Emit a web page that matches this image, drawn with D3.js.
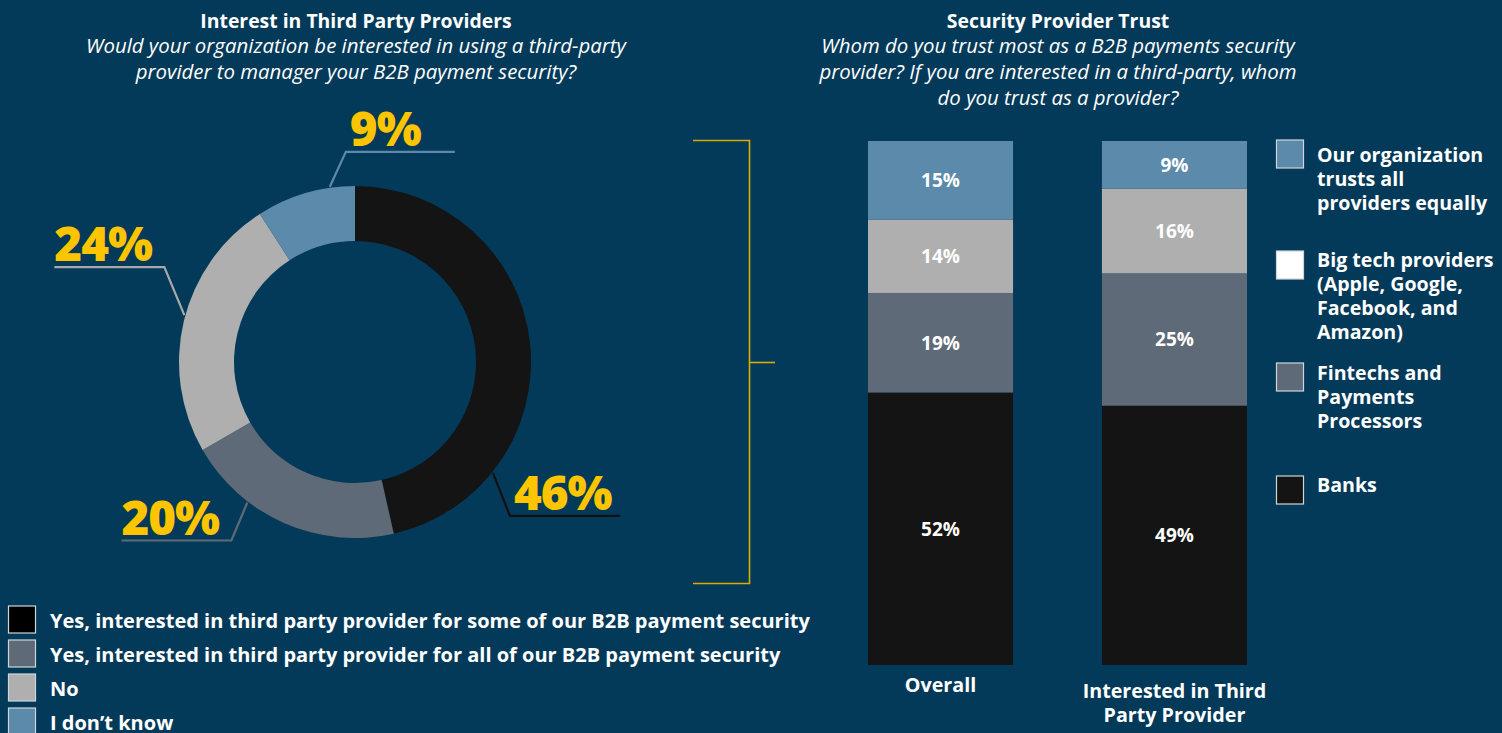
<!DOCTYPE html>
<html>
<head>
<meta charset="utf-8">
<script src="https://cdn.jsdelivr.net/npm/d3@7"></script>
<style>
  html, body { margin: 0; padding: 0; background: #043a59; }
  svg { display: block; }
  text { font-family: "Open Sans", "Noto Sans", sans-serif; }
</style>
</head>
<body>
<svg id="chart" width="1502" height="733"></svg>
<script>
// ---- Interest in third party providers (donut) ----
const interestLabels = [
  "Yes, interested in third party provider for some of our B2B payment security",
  "Yes, interested in third party provider for all of our B2B payment security",
  "No",
  "I don’t know"
];
const interestValues = [46, 20, 24, 9];
const interestColors = ["#141414", "#5e6a77", "#afafaf", "#5b8aab"];
const interestSwatchColors = ["#000000", "#5e6a77", "#afafaf", "#5b8aab"];

// ---- Security provider trust (stacked bars) ----
const trustCategories = ["Overall", "Interested in Third Party Provider"];
const trustCategoryLines = [["Overall"], ["Interested in Third", "Party Provider"]];
const trustSeries = ["Banks", "Fintechs and Payments Processors",
  "Big tech providers (Apple, Google, Facebook, and Amazon)",
  "Our organization trusts all providers equally"];
const banks = [52, 49];
const fintechs = [19, 25];
const bigTech = [14, 16];
const trustAll = [15, 9];
const trustColors = ["#141414", "#5e6a77", "#afafaf", "#5b8aab"];
const trustSwatchColors = ["#141414", "#5e6a77", "#ffffff", "#5b8aab"];
const trustLegendLines = [
  ["Our organization", "trusts all", "providers equally"],
  ["Big tech providers", "(Apple, Google,", "Facebook, and", "Amazon)"],
  ["Fintechs and", "Payments", "Processors"],
  ["Banks"]
];

const svg = d3.select("#chart");
const white = "#ffffff";
const yellow = "#fcc500";

// ---------- titles ----------
function titleBlock(cx, title, lines, subSize) {
  svg.append("text").attr("x", cx).attr("y", 28)
    .attr("text-anchor", "middle").attr("fill", white)
    .attr("font-size", 19.4).attr("font-weight", 700).text(title);
  lines.forEach((l, i) => {
    svg.append("text").attr("x", cx).attr("y", 53 + i * 26)
      .attr("text-anchor", "middle").attr("fill", white)
      .attr("font-size", subSize).attr("font-style", "italic").text(l);
  });
}
titleBlock(356, "Interest in Third Party Providers", [
  "Would your organization be interested in using a third-party",
  "provider to manager your B2B payment security?"
], 20.4);
titleBlock(1058, "Security Provider Trust", [
  "Whom do you trust most as a B2B payments security",
  "provider? If you are interested in a third-party, whom",
  "do you trust as a provider?"
], 20.4);

// ---------- donut ----------
const cx = 355, cy = 362, rOuter = 176, rInner = 121;
const pie = d3.pie().sort(null).value(d => d)(interestValues);
const arc = d3.arc().innerRadius(rInner).outerRadius(rOuter);
const donut = svg.append("g").attr("transform", `translate(${cx},${cy})`);
donut.selectAll("path").data(pie).join("path")
  .attr("d", arc).attr("fill", (d, i) => interestColors[i]);

// leader lines: where along the slice they leave, the elbow offset and run direction
const leaders = [
  { t: 0.77, elbow: [17, 43], run: 110, lineColor: "#111111" },
  { t: 0.69, elbow: [-16, 38], run: -110, lineColor: "#5e6a77" },
  { t: 0.52, elbow: [-20, -48], run: -110, lineColor: "#a9a9a9" },
  { t: 0.75, elbow: [16, -35], run: 109, lineColor: "#5b8aab" }
];
pie.forEach((p, i) => {
  const L = leaders[i];
  const a = p.startAngle + (p.endAngle - p.startAngle) * L.t;
  const [sx, sy] = d3.pointRadial(a, rOuter + 1);
  const ex = sx + L.elbow[0], ey = sy + L.elbow[1];
  const hx = ex + L.run;
  const g = svg.append("g").attr("transform", `translate(${cx},${cy})`);
  g.append("polyline")
    .attr("points", [[sx, sy], [ex, ey], [hx, ey]].map(q => q.join(",")).join(" "))
    .attr("fill", "none").attr("stroke", L.lineColor).attr("stroke-width", 2.2);
  const tx = L.run > 0 ? ex + 4 : hx;
  g.append("text").attr("x", tx).attr("y", ey - 6)
    .attr("fill", yellow).attr("font-size", 47.5).attr("font-weight", 800)
    .attr("letter-spacing", -1)
    .text(d3.format(".0f")(interestValues[i]) + "%");
});

// left legend
interestLabels.forEach((lab, i) => {
  const y0 = 606 + i * 34;
  svg.append("rect").attr("x", 8.5).attr("y", y0).attr("width", 27).attr("height", 27)
    .attr("fill", interestSwatchColors[i]).attr("stroke", "#cfd5da").attr("stroke-width", 1.2);
  svg.append("text").attr("x", 50).attr("y", y0 + 22)
    .attr("fill", white).attr("font-size", 20).attr("font-weight", 700).text(lab);
});

// ---------- bracket ----------
const bracket = svg.append("g").attr("fill", "none").attr("stroke", "#d9ad00").attr("stroke-width", 1.6);
bracket.append("path").attr("d", "M693,140.5 H749.5 V583.5 H693");
bracket.append("path").attr("d", "M749.5,362.5 H775");

// ---------- stacked bars ----------
const x = d3.scaleBand().domain(trustCategories).range([868, 1247]).paddingInner(0.38).paddingOuter(0);
const seriesValues = [banks, fintechs, bigTech, trustAll];
const rows = trustCategories.map((c, ci) => {
  const row = { category: c };
  trustSeries.forEach((s, si) => { row[s] = seriesValues[si][ci]; });
  return row;
});
const stack = d3.stack().keys(trustSeries)(rows);

trustCategories.forEach((c, ci) => {
  const total = d3.sum(seriesValues, v => v[ci]);
  const y = d3.scaleLinear().domain([0, total]).range([665, 141]);
  stack.forEach((layer, si) => {
    const d = layer[ci];
    svg.append("rect")
      .attr("x", x(c)).attr("width", x.bandwidth())
      .attr("y", y(d[1])).attr("height", y(d[0]) - y(d[1]))
      .attr("fill", trustColors[si]);
    svg.append("text")
      .attr("x", x(c) + x.bandwidth() / 2)
      .attr("y", (y(d[0]) + y(d[1])) / 2)
      .attr("dy", "0.36em")
      .attr("text-anchor", "middle").attr("fill", white)
      .attr("font-size", 19).attr("font-weight", 700)
      .text(seriesValues[si][ci] + "%");
  });
  const lines = trustCategoryLines[ci];
  lines.forEach((l, li) => {
    svg.append("text")
      .attr("x", x(c) + x.bandwidth() / 2)
      .attr("y", (lines.length === 1 ? 692 : 698) + li * 24)
      .attr("text-anchor", "middle").attr("fill", white)
      .attr("font-size", 19.7).attr("font-weight", 700).text(l);
  });
});

// right legend (top to bottom)
const legendSlots = [
  { top: 140, base: 162 },
  { top: 251, base: 267 },
  { top: 363, base: 380 },
  { top: 476, base: 492 }
];
trustLegendLines.forEach((lines, i) => {
  const si = trustSeries.length - 1 - i;
  const slot = legendSlots[i];
  svg.append("rect").attr("x", 1276.5).attr("y", slot.top).attr("width", 27).attr("height", 28)
    .attr("fill", trustSwatchColors[si]).attr("stroke", "#cfd5da").attr("stroke-width", 1.2);
  lines.forEach((l, li) => {
    svg.append("text").attr("x", 1317).attr("y", slot.base + li * 24)
      .attr("fill", white).attr("font-size", 19.6).attr("font-weight", 700).text(l);
  });
});
</script>
</body>
</html>
